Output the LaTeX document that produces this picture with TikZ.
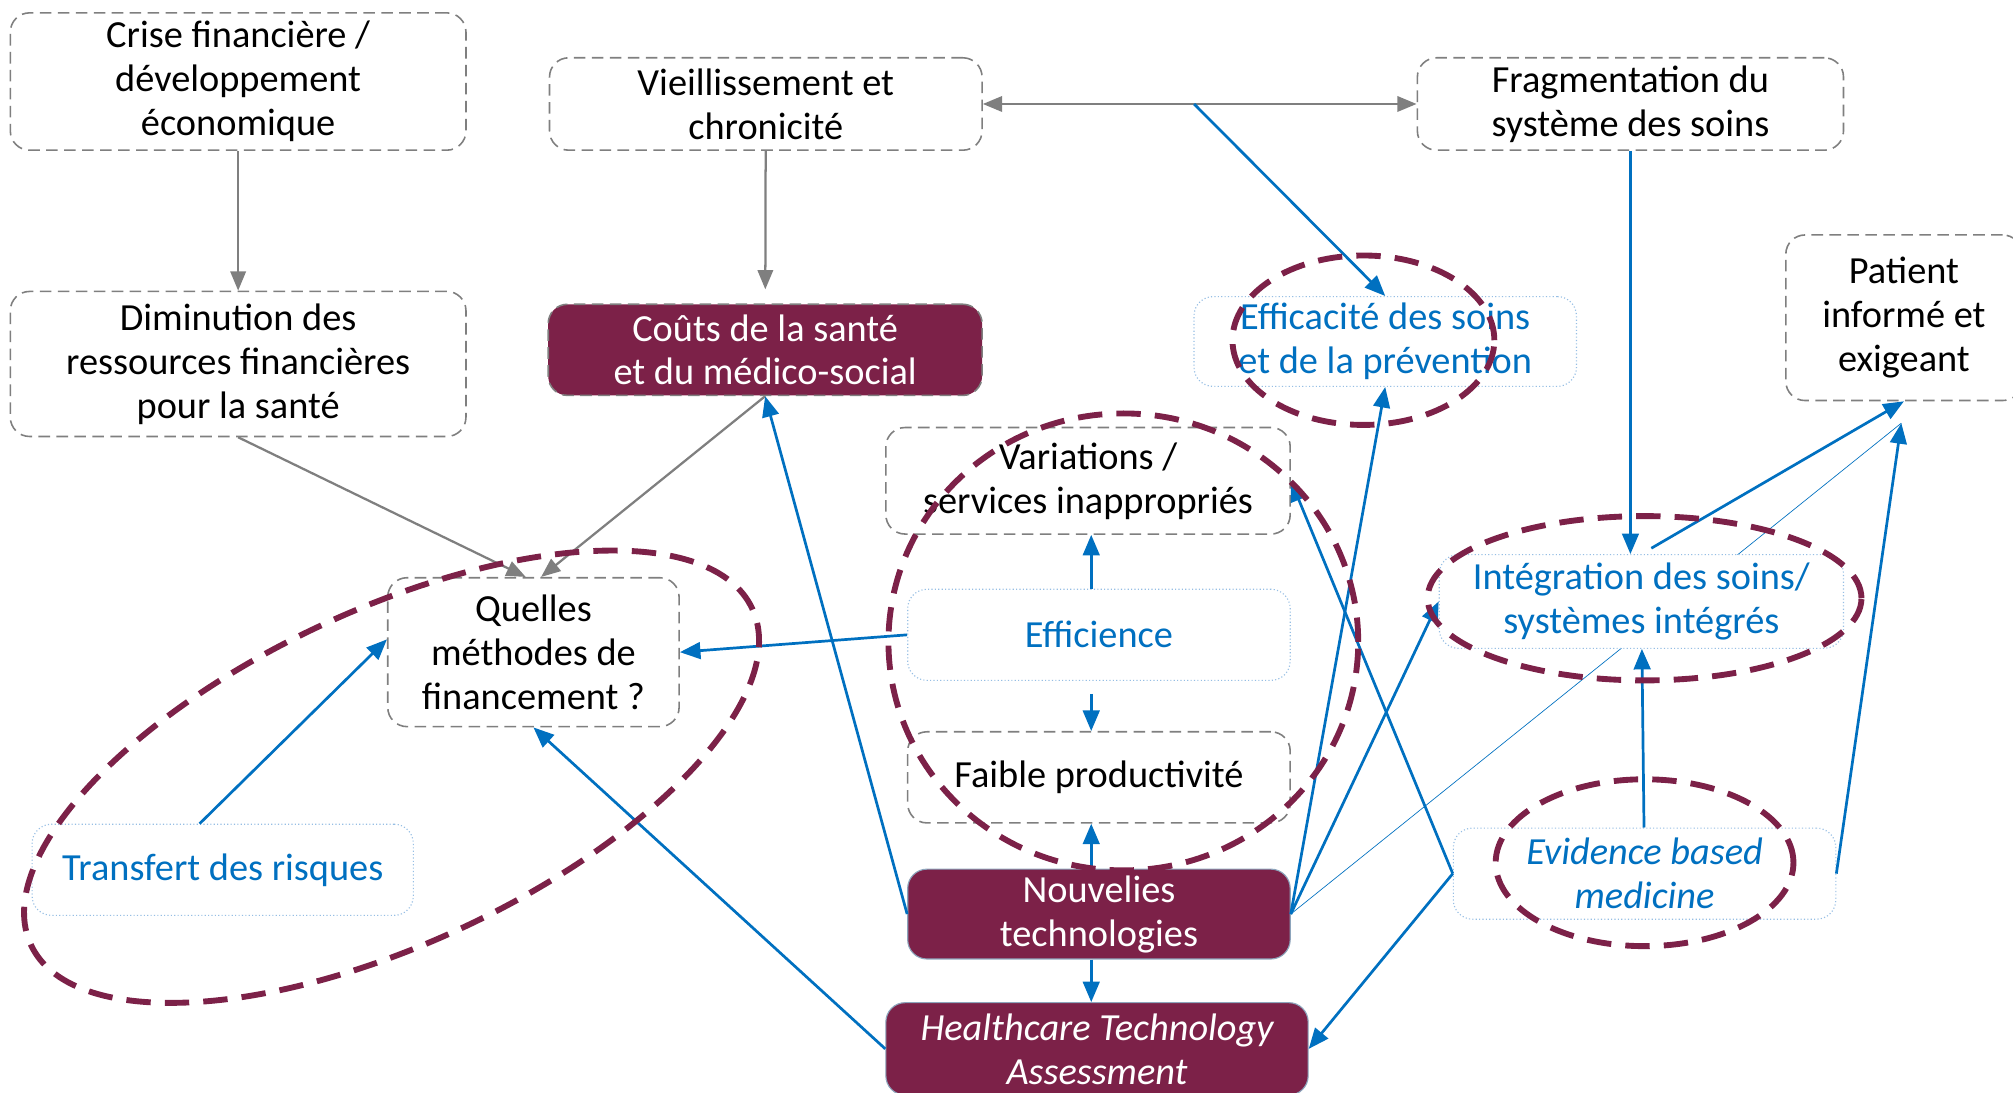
\documentclass[tikz,border=0pt]{standalone}
\usepackage{fontspec}
\setmainfont{Carlito}
\usepackage{tikz}
\usetikzlibrary{arrows.meta,calc,backgrounds}
\definecolor{wine}{RGB}{124,33,72}
\definecolor{linkblue}{RGB}{0,112,192}
\definecolor{boxgray}{RGB}{127,127,127}
\definecolor{paleblue}{RGB}{150,190,228}
\newcommand{\boxfont}{\fontsize{17}{19.5}\selectfont}

\begin{document}
\begin{tikzpicture}[x=0.02cm,y=-0.02cm,
  every node/.style={font=\boxfont, align=center, inner sep=0pt},
  graybox/.style={draw=boxgray, dash pattern=on 0.18cm off 0.1cm, line width=0.7pt, rounded corners=0.3cm, fill=white},
  bluebox/.style={draw=paleblue, densely dotted, line width=0.5pt, rounded corners=0.3cm, fill=white, text=linkblue},
  winebox/.style={draw=paleblue!60!gray, line width=0.5pt, rounded corners=0.3cm, fill=wine, text=white},
  grayarrow/.style={draw=boxgray, line width=1pt, -{Triangle[length=0.3cm,width=0.24cm]}},
  graydouble/.style={draw=boxgray, line width=1pt, {Triangle[length=0.3cm,width=0.24cm]}-{Triangle[length=0.3cm,width=0.24cm]}},
  bluearrow/.style={draw=linkblue, line width=1.2pt, -{Triangle[length=0.32cm,width=0.26cm]}},
  ring/.style={draw=wine, line width=2.6pt, dash pattern=on 0.38cm off 0.22cm}]

  \useasboundingbox (0,0) rectangle (1568,851);

  % Top row
  \node[graybox, minimum width=7.1cm, minimum height=2.14cm] (crise) at (185.5,63.5) {Crise financière /\\développement\\économique};
  \node[graybox, minimum width=6.74cm, minimum height=1.44cm] (vieil) at (596.5,81) {Vieillissement et\\chronicité};
  \node[graybox, minimum width=6.64cm, minimum height=1.44cm] (frag) at (1270,81) {Fragmentation du\\système des soins};

  % Second row
  \node[graybox, minimum width=7.1cm, minimum height=2.26cm] (dimin) at (185.5,283.5) {Diminution des\\ressources financières\\pour la santé};
  \node[winebox, draw=boxgray, dash pattern=on 0.18cm off 0.1cm, line width=0.7pt, minimum width=6.76cm, minimum height=1.42cm] (couts) at (596,272.5) {Coûts de la santé\\et du médico-social};
  \node[bluebox, minimum width=5.96cm, minimum height=1.4cm] (effic) at (1079,266) {Efficacité des soins\\et de la prévention};
  \node[graybox, minimum width=3.68cm, minimum height=2.58cm] (patient) at (1483,247.5) {Patient\\informé et\\exigeant};

  % Middle column
  \node[graybox, minimum width=6.3cm, minimum height=1.66cm] (variations) at (847.5,374.5) {Variations /\\services inappropriés};
  \node[bluebox, minimum width=5.96cm, minimum height=1.42cm] (efficience) at (856,494.5) {Efficience};
  \node[graybox, minimum width=5.96cm, minimum height=1.42cm] (faible) at (856,605.5) {Faible productivité};
  \node[winebox, minimum width=5.96cm, minimum height=1.4cm] (nouv) at (856,712) {Nouvelies\\technologies};
  \node[winebox, font=\boxfont\itshape, minimum width=6.58cm, minimum height=1.44cm] (hta) at (854.5,817) {Healthcare Technology\\Assessment};

  % Left and right
  \node[graybox, minimum width=4.54cm, minimum height=2.32cm] (quelles) at (415.5,508) {Quelles\\méthodes de\\financement ?};
  \node[bluebox, minimum width=5.94cm, minimum height=1.42cm] (transfert) at (173.5,677.5) {Transfert des risques};
  \node[bluebox, minimum width=6.3cm, minimum height=1.46cm] (integ) at (1278.5,468.5) {Intégration des soins/\\systèmes intégrés};
  \node[bluebox, font=\boxfont\itshape, minimum width=5.96cm, minimum height=1.42cm] (ebm) at (1281,680.5) {Evidence based\\medicine};

  \coordinate (split) at ($(vieil.east)!0.487!(frag.west)$);
  \coordinate (patientin) at ($(patient.south)+(-2,17)$);
  \coordinate (midcol) at (850,0);

  % Thin link behind the boxes
  \begin{scope}[on background layer]
    \draw[linkblue, line width=0.3pt] (nouv.east) -- (patientin);
  \end{scope}

  % Gray links
  \draw[grayarrow] (crise) -- (dimin);
  \draw[grayarrow, shorten >=0.22cm] (vieil) -- (couts);
  \draw[graydouble] (vieil) -- (frag);
  \draw[grayarrow] (dimin.south) -- ([xshift=-0.12cm]quelles.north);
  \draw[grayarrow] (couts.south) -- ([xshift=0.12cm]quelles.north);

  % Blue links
  \draw[bluearrow] (split) -- (effic.north);
  \draw[bluearrow] (frag.south) -- (frag.south |- integ.north);
  \draw[bluearrow] (nouv.west) -- (couts.south);
  \draw[bluearrow] (efficience.west) -- (quelles.east);
  \draw[bluearrow] (efficience.north -| midcol) -- (variations.south -| midcol);
  \draw[bluearrow, shorten <=0.2cm] (efficience.south -| midcol) -- (faible.north -| midcol);
  \draw[bluearrow] (nouv.north -| midcol) -- (faible.south -| midcol);
  \draw[bluearrow] (nouv.south -| midcol) -- (hta.north -| midcol);
  \draw[bluearrow] (hta.west) -- (quelles.south);
  \draw[bluearrow] ($(transfert.north)+(-18,0)$) -- (quelles.175);
  \draw[bluearrow] (nouv.east) -- (effic.south);
  \draw[bluearrow] (nouv.east) -- (integ.west);
  \draw[bluearrow] (ebm.west) -- (variations.east);
  \draw[bluearrow] (ebm.west) -- (hta.east);
  \draw[bluearrow] (ebm) -- (integ);
  \draw[bluearrow] (ebm.east) -- (patientin);
  \draw[bluearrow, shorten <=0.18cm] (integ.north) -- (patient.south);

  % Dashed rings
  \draw[ring, rotate around={25:(305,605)}] (305,605) ellipse [x radius=6.2cm, y radius=2.6cm];
  \draw[ring] (875,500) ellipse [x radius=3.66cm, y radius=3.56cm];
  \draw[ring] (1062,265) ellipse [x radius=2.04cm, y radius=1.32cm];
  \draw[ring] (1281,466) ellipse [x radius=3.38cm, y radius=1.28cm];
  \draw[ring] (1281,672) ellipse [x radius=2.32cm, y radius=1.3cm];
\end{tikzpicture}
\end{document}
